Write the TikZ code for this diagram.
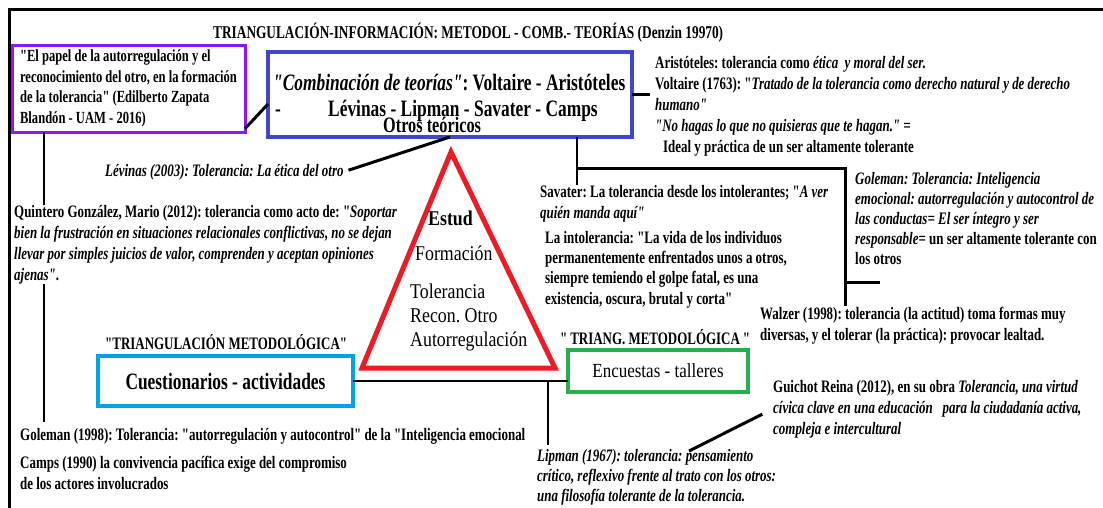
\documentclass[tikz,border=0pt]{standalone}
\usepackage{fontspec}
\setmainfont{Liberation Serif}[FakeStretch=0.74, Ligatures=TeXOff]
\newfontfamily\trianglefont{Liberation Serif}[FakeStretch=0.85, Ligatures=TeXOff]
\usetikzlibrary{positioning}
\tikzset{>=stealth}
\definecolor{violeta}{RGB}{140,24,245}
\definecolor{indigo}{RGB}{64,70,205}
\definecolor{rojo}{RGB}{237,28,36}
\definecolor{celeste}{RGB}{0,162,232}
\definecolor{verde}{RGB}{34,177,76}
% multi-line nodes are anchored at the baseline of their last line
\tikzstyle{cite} = [inner sep = 0pt, anchor = base west, align = left, font = \fontsize{17.5}{21}\selectfont\bfseries]
\tikzstyle{heading} = [inner sep = 0pt, anchor = base west, font = \fontsize{17.5}{21}\selectfont\bfseries]
\tikzstyle{box} = [rectangle, anchor = north west, inner sep = 0pt, outer sep = 0pt]
\tikzstyle{corner} = [inner sep = 0pt, anchor = base west, align = left, font = \fontsize{21}{24}\selectfont\trianglefont]
\tikzstyle{connector} = [draw = black, line width = 2.5]

\begin{document}
\frenchspacing
\begin{tikzpicture}[x = 1pt, y = -1pt]
\useasboundingbox (0,0) rectangle (1103,507);
\clip (0,0) rectangle (1103,507);
\draw [line width = 3] (9,520) -- (9,9) -- (1120,9);

\node (titulo) [heading, font = \fontsize{18}{21}\selectfont\bfseries] at (213,38) {TRIANGULACIÓN-INFORMACIÓN: METODOL - COMB.- TEORÍAS (Denzin 19970)};

% cajas
\node (papelBox) [box, draw = violeta, line width = 3, minimum width = 233, minimum height = 87, align = left, font = \fontsize{17}{20.5}\selectfont\bfseries] at (12,45) {"El papel de la autorregulación y el\\
reconocimiento del otro, en la formación\\
de la tolerancia" (Edilberto Zapata\\
Blandón - UAM - 2016)};
\node (teorias) [box, draw = indigo, line width = 4.5, minimum width = 364, minimum height = 85] at (268,52) {};
\node (teoriasText) [inner sep = 0pt, anchor = base west, align = left, font = \fontsize{23.5}{26}\selectfont\bfseries] at (273,132) {\textit{"Combinación de teorías"}: Voltaire - Aristóteles\\
\makebox[55pt][l]{\hspace*{2pt}-}Lévinas - Lipman - Savater - Camps\\[-10pt]
\hspace*{110pt}{\fontsize{22}{22}\selectfont Otros teóricos}};
\node (cuestionarios) [box, draw = celeste, line width = 4, minimum width = 255, minimum height = 50, font = \fontsize{23.5}{26}\selectfont\bfseries] at (98,356) {Cuestionarios - actividades};
\node (encuestas) [box, draw = verde, line width = 4, minimum width = 180, minimum height = 42, font = \fontsize{20}{24}\selectfont\trianglefont] at (568,350) {Encuestas - talleres};

% triangulo
\coordinate (apex) at (451,152);
\coordinate (baseL) at (362,368);
\coordinate (baseR) at (555,368);
\draw [rojo, line width = 5] (apex) -- (baseL) -- (baseR) -- cycle;
\node (estud) [corner, font = \fontsize{21}{24}\selectfont\trianglefont\bfseries] at (428,225) {Estud};
\node (formacion) [corner] at (415,260) {Formación};
\node (valores) [corner] at (410,346) {Tolerancia\\Recon. Otro\\Autorregulación};

% textos
\node (aristoteles) [cite] at (655,152) {Aristóteles: tolerancia como \textit{ética\ \ y moral del ser.}\\
Voltaire (1763): "\textit{Tratado de la tolerancia como derecho natural y de derecho}\\
\textit{humano"}\\
\textit{"No hagas lo que no quisieras que te hagan." =}\\
\hspace*{8pt}Ideal y práctica de un ser altamente tolerante};
\node (levinas) [cite] at (105,176) {\textit{Lévinas (2003): Tolerancia: La ética del otro}};
\node (savater) [cite] at (540,218) {Savater: La tolerancia desde los intolerantes; "\textit{A ver}\\
\textit{quién manda aquí"}};
\node (intolerancia) [cite, font = \fontsize{17.5}{20.3}\selectfont\bfseries] at (545,304) {La intolerancia: "La vida de los individuos\\
permanentemente enfrentados unos a otros,\\
siempre temiendo el golpe fatal, es una\\
existencia, oscura, brutal y corta"};
\node (golemanEmo) [cite, font = \fontsize{17.5}{20}\selectfont\bfseries] at (855,264) {\textit{Goleman: Tolerancia: Inteligencia}\\
\textit{emocional: autorregulación y autocontrol de}\\
\textit{las conductas= El ser íntegro y ser}\\
\textit{responsable}= un ser altamente tolerante con\\
los otros};
\node (walzer) [cite] at (760,340) {Walzer (1998): tolerancia (la actitud) toma formas muy\\
diversas, y el tolerar (la práctica): provocar lealtad.};
\node (quintero) [cite] at (14,280) {Quintero González, Mario (2012): tolerancia como acto de: "\textit{Soportar}\\
\textit{bien la frustración en situaciones relacionales conflictivas, no se dejan}\\
\textit{llevar por simples juicios de valor, comprenden y aceptan opiniones}\\
\textit{ajenas"}.};
\node (trianMetod) [heading] at (105,349) {"TRIANGULACIÓN METODOLÓGICA"};
\node (triangMetod) [heading] at (560,344) {"\,TRIANG. METODOLÓGICA\,"};
\node (golemanAuto) [cite] at (20,440) {Goleman (1998): Tolerancia: "autorregulación y autocontrol" de la "Inteligencia emocional};
\node (camps) [cite] at (20,489) {Camps (1990) la convivencia pacífica exige del compromiso\\
de los actores involucrados};
\node (lipman) [cite, font = \fontsize{17.5}{20}\selectfont\bfseries] at (537,501) {\textit{Lipman (1967): tolerancia: pensamiento}\\
\textit{crítico, reflexivo frente al trato con los otros:}\\
\textit{una filosofía tolerante de la tolerancia.}};
\node (guichot) [cite] at (773,434) {Guichot Reina (2012), en su obra \textit{Tolerancia, una virtud}\\
\textit{cívica clave en una educación\ \ \ para la ciudadanía activa,}\\
\textit{compleja e intercultural}};

% conectores
\coordinate (leftLine) at (44,0);
\coordinate (teoriasJoint) at (577,168);
\coordinate (rightLine) at (845,168);
\coordinate (golemanStub) at (880,282);
\coordinate (lipmanJoint) at (548,383);
\coordinate (guichotEnd) at (689,451);
\draw [connector, line width = 3] (papelBox.-19) -- (teorias.183);
\draw [connector, line width = 3, shorten >= 5] (teorias.south) -- (levinas.east);
\draw [connector, line width = 3.5, shorten >= 5] (teorias.east) -- (teorias.east -| aristoteles.west);
\draw [connector] (papelBox.south -| leftLine) -- (quintero.north -| leftLine);
\draw [connector, shorten >= 6] (quintero.south -| leftLine) -- (golemanAuto.north -| leftLine);
\draw [connector] (teorias.south -| teoriasJoint) -- (savater.north -| teoriasJoint);
\draw [connector, line width = 3] (teoriasJoint) -- (rightLine) -- (walzer.north -| rightLine);
\draw [connector, line width = 3] (golemanStub -| rightLine) -- (golemanStub);
\draw [connector] (cuestionarios.east) -- (cuestionarios.east -| encuestas.west);
\draw [connector, line width = 2, shorten >= 4] (lipmanJoint |- cuestionarios.east) -- (lipmanJoint |- lipman.north);
\draw [connector, line width = 3, shorten <= 12] (guichot.west) -- (guichotEnd);
\end{tikzpicture}
\end{document}
